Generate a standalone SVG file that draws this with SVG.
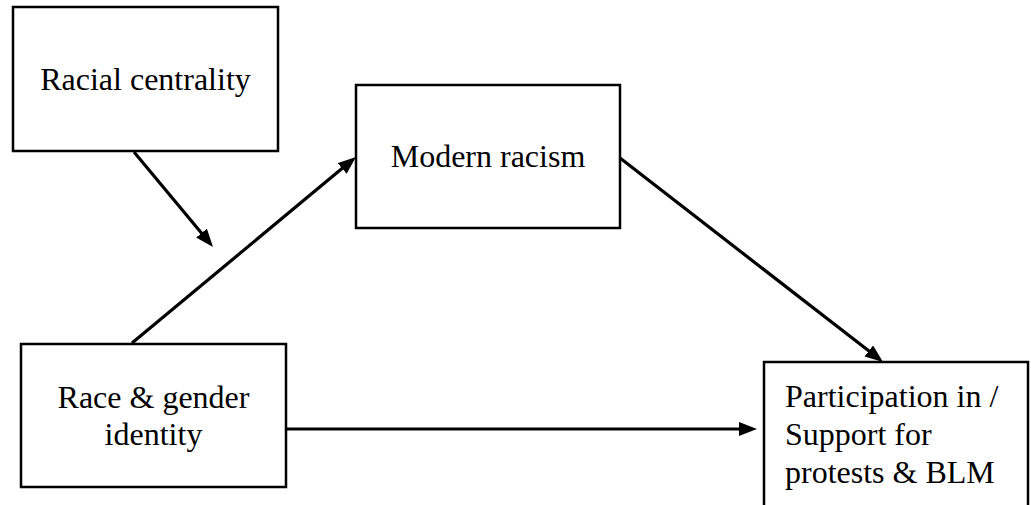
<svg xmlns="http://www.w3.org/2000/svg" width="1031" height="505" viewBox="0 0 1031 505">
<style>
.box{fill:#fff;stroke:#000;stroke-width:2.5}
.t{font-family:"Liberation Serif","Times New Roman",serif;font-size:32px;fill:#000}
.c{text-anchor:middle}
.edge{stroke:#000;stroke-width:3.2;fill:none;marker-end:url(#ah)}
</style>
<defs>
<marker id="ah" markerUnits="userSpaceOnUse" markerWidth="20" markerHeight="16" refX="10" refY="7" orient="auto">
<path d="M0,0 L18,7 L0,14 z" fill="#000"/>
</marker>
</defs>
<rect width="1031" height="505" fill="#fff"/>
<g id="connectors">
<line class="edge" x1="134" y1="152" x2="207.9" y2="240.8"/>
<line class="edge" x1="132" y1="343" x2="349.8" y2="162.1"/>
<line class="edge" x1="620" y1="158" x2="876.7" y2="357.1"/>
<line class="edge" x1="287" y1="429" x2="749" y2="429"/>
</g>
<g id="racial-centrality">
<rect class="box" x="13" y="7" width="265" height="144"/>
<text class="t c" x="145.5" y="90">Racial centrality</text>
</g>
<g id="modern-racism">
<rect class="box" x="356" y="85" width="264" height="143"/>
<text class="t c" x="488" y="167">Modern racism</text>
</g>
<g id="race-gender-identity">
<rect class="box" x="21" y="344" width="265" height="143"/>
<text class="t c" x="153.5" y="408">Race &amp; gender</text>
<text class="t c" x="153.5" y="445">identity</text>
</g>
<g id="participation">
<rect class="box" x="764" y="362" width="264" height="160"/>
<text class="t" x="785" y="407">Participation in /</text>
<text class="t" x="785" y="445">Support for</text>
<text class="t" x="785" y="483">protests &amp; BLM</text>
</g>
</svg>
